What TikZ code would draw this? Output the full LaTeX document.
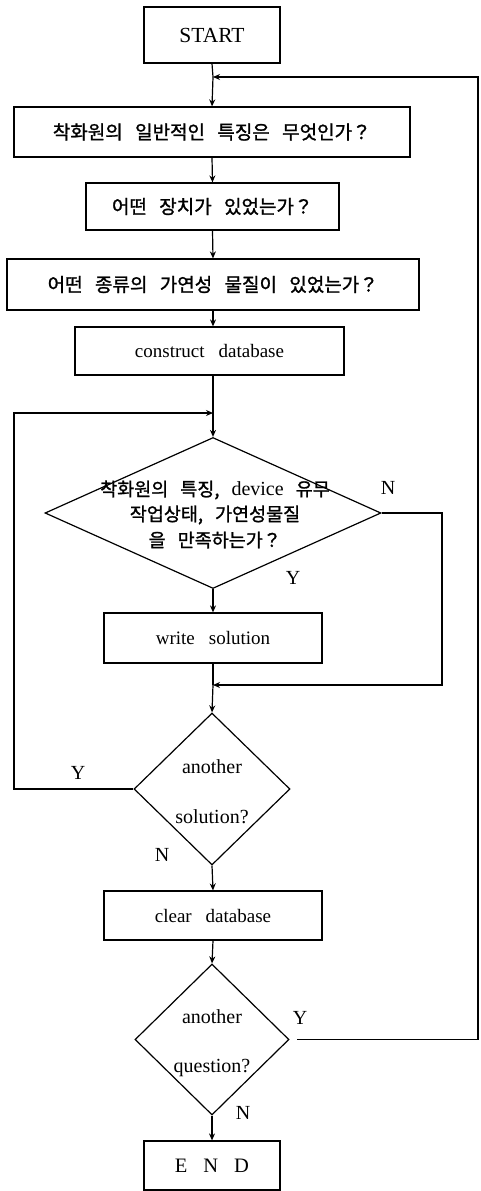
\documentclass[tikz,border=0pt]{standalone}
\usepackage{fontspec}
\setmainfont{Liberation Serif}
\newfontfamily\krfont[FakeBold=1.3]{Noto Sans CJK KR}
\usetikzlibrary{shapes.geometric,arrows.meta}
\newcommand{\kr}[1]{\krfont\fontsize{#1}{22}\selectfont\spaceskip=0.65em\relax}
\newcommand{\gap}{\hspace{14pt}}
\tikzset{
  box/.style={draw, line width=1.2pt, rectangle, inner sep=0pt, font=\fontsize{19}{24}\selectfont},
  decision/.style={draw, line width=1.2pt, diamond, inner sep=0pt},
  txt/.style={inner sep=0pt, font=\fontsize{20}{24}\selectfont},
  flow/.style={line width=1.2pt, -{Stealth[length=7pt,width=6pt]}},
  wire/.style={line width=1.2pt},
}
\begin{document}
\begin{tikzpicture}[x=1pt, y=-1pt]
\useasboundingbox (0,0) rectangle (481,1191);

% process boxes
\node[box, minimum width=136pt, minimum height=56pt, font=\fontsize{21.5}{24}\selectfont] (start) at (212,35) {START};
\node[box, minimum width=396pt, minimum height=50pt] (q1) at (212,132) {\kr{19}착화원의 일반적인 특징은 무엇인가？};
\node[box, minimum width=253pt, minimum height=47pt] (q2) at (212.5,206.5) {\kr{19}어떤 장치가 있었는가？};
\node[box, minimum width=412pt, minimum height=51pt] (q3) at (213,284.5) {\kr{19}어떤 종류의 가연성 물질이 있었는가？};
\node[box, minimum width=269pt, minimum height=48pt] (db) at (209.5,351) {construct\gap database};
\node[box, minimum width=218pt, minimum height=50pt] (ws) at (213,638) {write\gap solution};
\node[box, minimum width=218pt, minimum height=49pt] (cd) at (213,915.5) {clear\gap database};
\node[box, minimum width=136pt, minimum height=49pt, font=\fontsize{20.5}{24}\selectfont] (end) at (212,1165.5) {E\hspace{16pt}N\hspace{16pt}D};

% decisions
\node[decision, minimum width=336pt, minimum height=151pt] (d1) at (213,513) {};
\node[decision, minimum width=156pt, minimum height=152pt] (d2) at (212,789) {};
\node[decision, minimum width=154pt, minimum height=151pt] (d3) at (212,1039.5) {};

% decision texts
\node[txt] (d1a) at (215,490) {\kr{18.5}착화원의 특징, {\rmfamily\fontsize{20}{22}\selectfont device} 유무};
\node[txt] (d1b) at (215,515) {\kr{18.5}작업상태, 가연성물질};
\node[txt] (d1c) at (215,540) {\kr{18.5}을 만족하는가？};
\node[txt] (d2a) at (212,767) {another};
\node[txt] (d2b) at (212,817) {solution?};
\node[txt] (d3a) at (212,1017) {another};
\node[txt] (d3b) at (212,1068) {question?};

% branch labels
\node[txt] (n1) at (388,488) {N};
\node[txt] (y1) at (293,578) {Y};
\node[txt] (y2) at (78,773) {Y};
\node[txt] (n2) at (162,855) {N};
\node[txt] (y3) at (300,1018) {Y};
\node[txt] (n3) at (243,1113) {N};

% junction points on the main line
\coordinate (j1) at (213,77);
\coordinate (j2) at (213,413);
\coordinate (j3) at (213,685);

% main flow
\draw[wire] (start.south) -- (j1);
\draw[flow] (j1) -- (q1.north);
\draw[flow] (q1.south) -- (q2.north);
\draw[flow] (q2.south) -- (q3.north);
\draw[flow] (q3.south) -- (db.north -| j1);
\draw[wire] (db.south -| j1) -- (j2);
\draw[flow] (j2) -- (d1.north);
\draw[flow] (d1.south) -- (ws.north);
\draw[wire] (ws.south) -- (j3);
\draw[flow] (j3) -- (d2.north);
\draw[flow] (d2.south) -- (cd.north);
\draw[flow] (cd.south) -- (d3.north);
\draw[flow] (d3.south) -- (end.north);

% N branch of the first decision
\draw[flow] (d1.east) -- (442,513) -- (442,685) -- (j3);
% Y branch of "another solution?"
\draw[flow] (d2.west) -- (14,789) -- (14,413) -- (j2);
% Y branch of "another question?"
\coordinate (r3) at (297,1039.5);
\draw[flow] (r3) -- (478,1039.5) -- (478,77) -- (j1);
\end{tikzpicture}
\end{document}
